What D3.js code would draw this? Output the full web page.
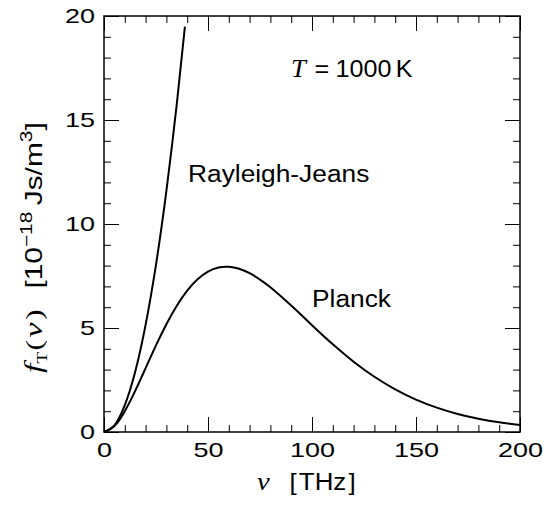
<!DOCTYPE html>
<html>
<head>
<meta charset="utf-8">
<script src="https://cdn.jsdelivr.net/npm/d3@7"></script>
<style>
  body { margin: 0; background: #fff; }
  svg { display: block; }
</style>
</head>
<body>
<div id="chart"></div>
<script>
// values (units: THz, 10^-18 Js/m^3)
var nuPlanck = [0, 5, 10, 15, 20, 25, 30, 35, 40, 45, 50, 55, 60, 65, 70, 75, 80,
  90, 100, 110, 120, 130, 140, 150, 160, 170, 180, 190, 200];
var fPlanck = [0, 0.285, 1.003, 1.979, 3.068, 4.163, 5.183, 6.072, 6.798, 7.345,
  7.711, 7.905, 7.943, 7.845, 7.633, 7.329, 6.955, 6.077, 5.133, 4.214, 3.379,
  2.655, 2.051, 1.560, 1.172, 0.869, 0.639, 0.465, 0.335];

var nuRJ = [0, 5, 10, 15, 20, 25, 30, 35, 38.9];
var fRJ = [0, 0.322, 1.288, 2.898, 5.151, 8.049, 11.591, 15.776, 19.49];

var xMajor = [0, 50, 100, 150, 200];
var xMinor = [10, 20, 30, 40, 60, 70, 80, 90, 110, 120, 130, 140, 160, 170, 180, 190];
var yMajor = [0, 5, 10, 15, 20];
var yMinor = [1, 2, 3, 4, 6, 7, 8, 9, 11, 12, 13, 14, 16, 17, 18, 19];

var sans = "'Liberation Sans', Arial, sans-serif";
var serif = "'Liberation Serif', 'Times New Roman', serif";

var W = 547, H = 506;
var margin = { top: 16, right: 27, bottom: 74, left: 104 },
  width = W - margin.left - margin.right,
  height = H - margin.top - margin.bottom;

var svg = d3.select("#chart").append("svg")
  .attr("width", W)
  .attr("height", H)
  .style("background", "#fff");

var g = svg.append("g")
  .attr("transform", "translate(" + margin.left + "," + margin.top + ")");

var x = d3.scaleLinear().domain([0, 200]).range([0, width]);
var y = d3.scaleLinear().domain([0, 20]).range([height, 0]);

var tickScale = 1.35; // tick labels in the reference are drawn wide

// minor ticks, all four sides
function minorAxis(axis, tr) {
  var a = g.append("g").attr("transform", tr).call(axis.tickSize(-7).tickFormat(""));
  a.select(".domain").remove();
  a.selectAll("line").attr("stroke", "#000").attr("stroke-width", 1);
}
minorAxis(d3.axisBottom(x).tickValues(xMinor), "translate(0," + height + ")");
minorAxis(d3.axisTop(x).tickValues(xMinor), "translate(0,0)");
minorAxis(d3.axisLeft(y).tickValues(yMinor), "translate(0,0)");
minorAxis(d3.axisRight(y).tickValues(yMinor), "translate(" + width + ",0)");

// major ticks
var xAxis = g.append("g")
  .attr("transform", "translate(0," + height + ")")
  .call(d3.axisBottom(x).tickValues(xMajor).tickSize(-15).tickPadding(11).tickFormat(d3.format("d")));
var yAxis = g.append("g")
  .call(d3.axisLeft(y).tickValues(yMajor).tickSize(-15).tickPadding(9 / tickScale).tickFormat(d3.format("d")));
var xTop = g.append("g")
  .call(d3.axisTop(x).tickValues(xMajor).tickSize(-15).tickFormat(""));
var yRight = g.append("g")
  .attr("transform", "translate(" + width + ",0)")
  .call(d3.axisRight(y).tickValues(yMajor).tickSize(-15).tickFormat(""));

[xAxis, yAxis, xTop, yRight].forEach(function (a) {
  a.select(".domain").remove();
  a.selectAll("line").attr("stroke", "#000").attr("stroke-width", 1);
  a.selectAll("text")
    .attr("fill", "#000")
    .style("font-family", sans)
    .style("font-size", "20px")
    .attr("transform", "scale(" + tickScale + ",1)");
});

// frame
g.append("rect")
  .attr("width", width)
  .attr("height", height)
  .attr("fill", "none")
  .attr("stroke", "#000")
  .attr("stroke-width", 1.5);

// curves
var line = d3.line()
  .x(function (d) { return x(d[0]); })
  .y(function (d) { return y(d[1]); })
  .curve(d3.curveNatural);

g.append("path")
  .datum(d3.zip(nuPlanck, fPlanck))
  .attr("fill", "none")
  .attr("stroke", "#000")
  .attr("stroke-width", 2)
  .attr("d", line);

g.append("path")
  .datum(d3.zip(nuRJ, fRJ))
  .attr("fill", "none")
  .attr("stroke", "#000")
  .attr("stroke-width", 2)
  .attr("d", line);

// annotations
function label(px, py, sx) {
  return svg.append("g")
    .attr("transform", "translate(" + px + "," + py + ") scale(" + sx + ",1)")
    .append("text")
    .attr("fill", "#000")
    .style("font-family", sans)
    .style("font-size", "23.5px");
}

label(188, 182, 1.12).text("Rayleigh-Jeans");
label(312, 307, 1.12).text("Planck");

var tl = label(291, 77, 1.07);
tl.append("tspan").style("font-family", serif).style("font-style", "italic").style("font-size", "25px").text("T");
tl.append("tspan").attr("dx", 8).text("=");
tl.append("tspan").attr("dx", 6).text("1000");
tl.append("tspan").attr("dx", 4).text("K");

// x axis title
var xt = label(257, 490, 1.1);
xt.append("tspan").style("font-family", serif).style("font-style", "italic").style("font-size", "26px").text("ν");
xt.append("tspan").attr("dx", 18).text("[");
xt.append("tspan").attr("dx", 2).text("THz");
xt.append("tspan").attr("dx", 2).text("]");

// y axis title (stretched along its length like the reference)
var yt = svg.append("g")
  .attr("transform", "translate(42,373) rotate(-90) scale(1.3,1)")
  .append("text")
  .attr("fill", "#000")
  .style("font-family", sans)
  .style("font-size", "23px");
yt.append("tspan").style("font-family", serif).style("font-style", "italic").style("font-size", "26px").text("f");
yt.append("tspan").style("font-family", serif).style("font-size", "15px").attr("dy", 5).text("T");
yt.append("tspan").style("font-family", serif).style("font-size", "24px").attr("dy", -5).attr("dx", 1).text("(");
yt.append("tspan").style("font-family", serif).style("font-style", "italic").style("font-size", "26px").attr("dx", 2).text("ν");
yt.append("tspan").style("font-family", serif).style("font-size", "24px").attr("dx", 2).text(")");
yt.append("tspan").attr("dx", 16).text("[10");
yt.append("tspan").style("font-size", "16px").attr("dy", -10).text("−18");
yt.append("tspan").attr("dy", 10).attr("dx", 5).text("Js/m");
yt.append("tspan").style("font-size", "16px").attr("dy", -10).text("3");
yt.append("tspan").attr("dy", 10).text("]");
</script>
</body>
</html>
